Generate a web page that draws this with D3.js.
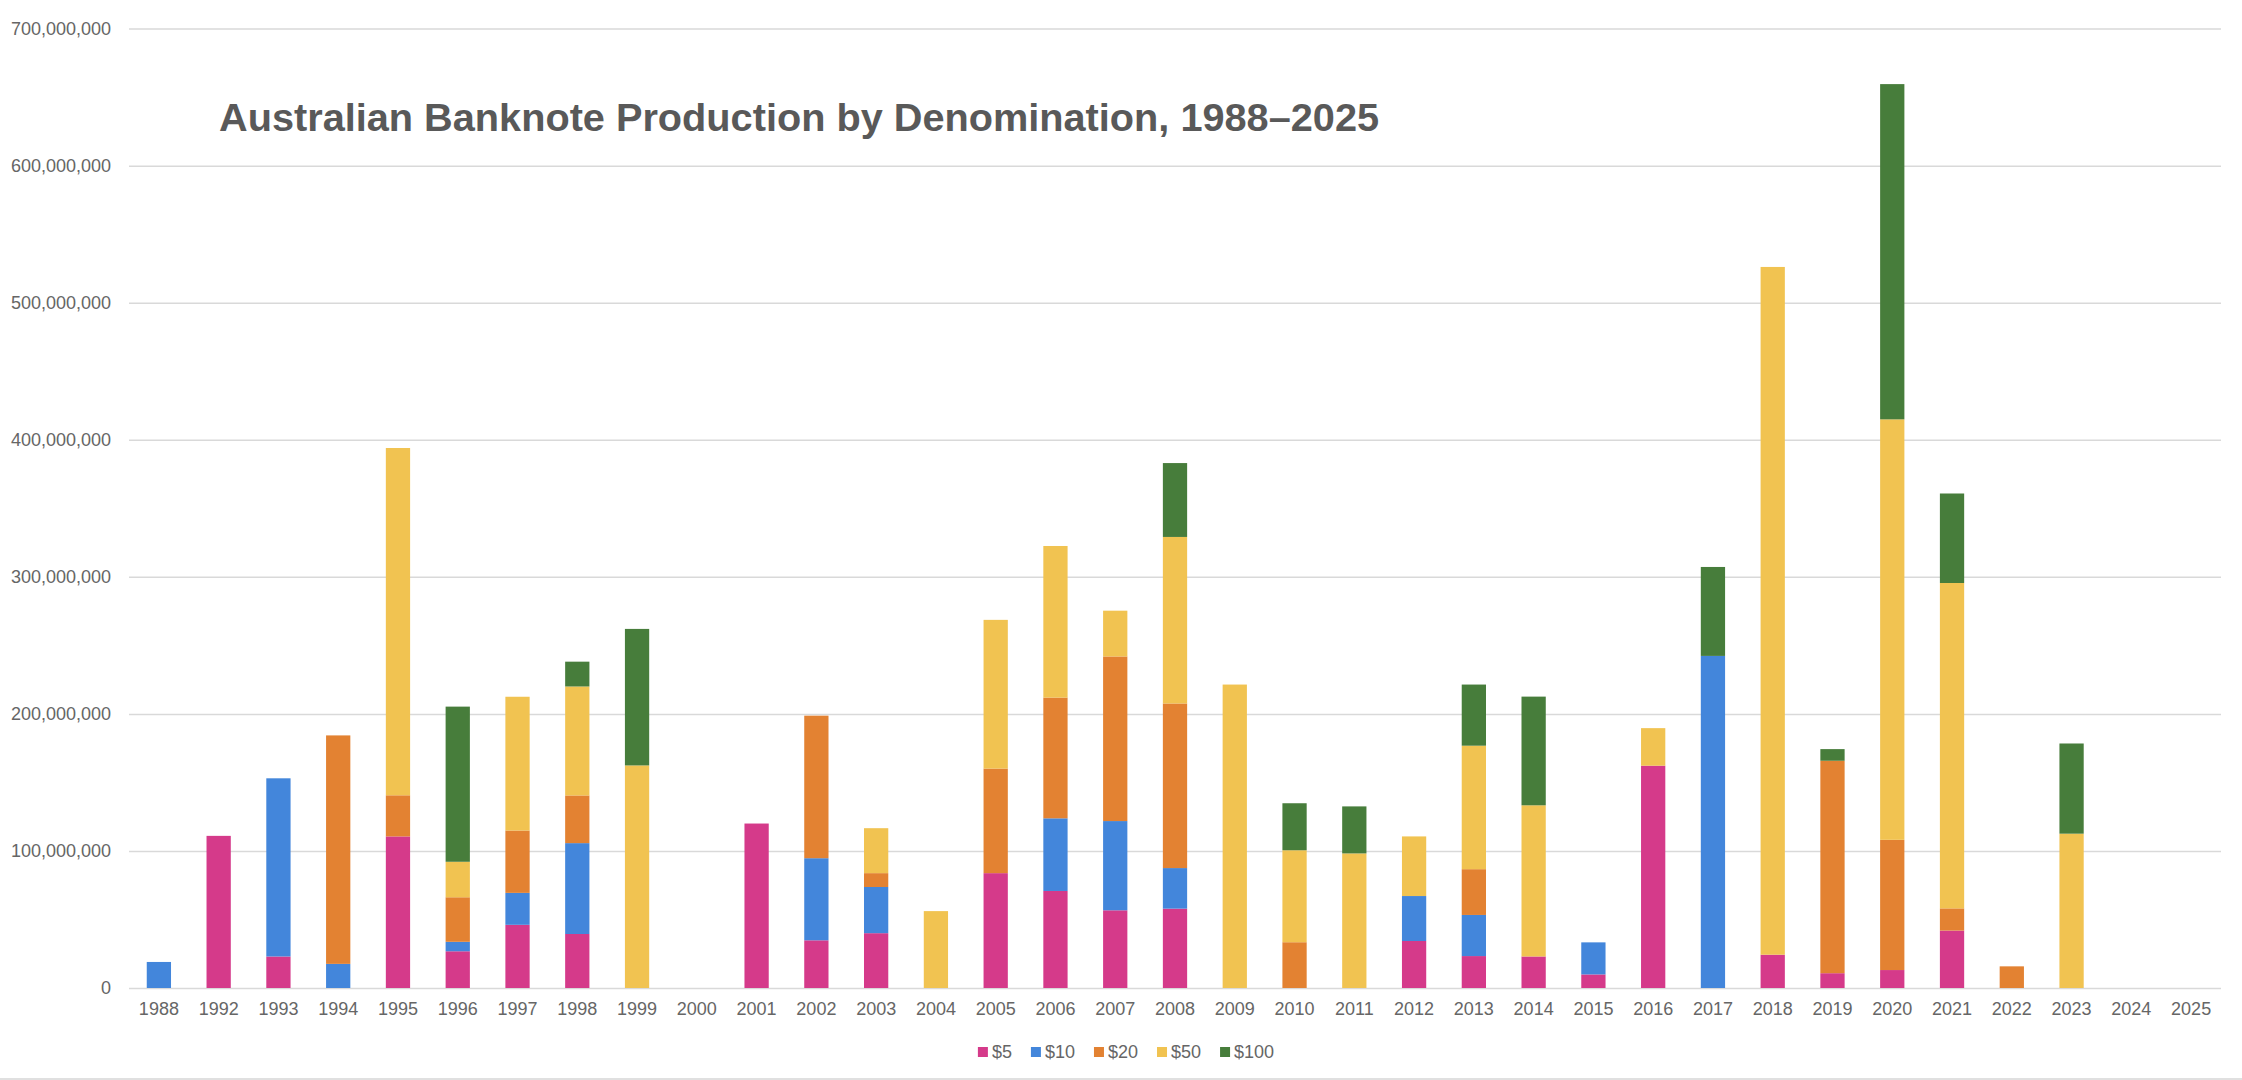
<!DOCTYPE html>
<html>
<head>
<meta charset="utf-8">
<script src="https://cdn.jsdelivr.net/npm/d3@7"></script>
<style>
  body { margin: 0; background: #fff; }
  svg { display: block; font-family: "Liberation Sans", Arial, Helvetica, sans-serif; }
</style>
</head>
<body>
<svg id="chart" width="2242" height="1080"></svg>
<script>
// values in millions of notes
const years = ["1988", "1992", "1993", "1994", "1995", "1996", "1997", "1998", "1999", "2000",
  "2001", "2002", "2003", "2004", "2005", "2006", "2007", "2008", "2009", "2010", "2011",
  "2012", "2013", "2014", "2015", "2016", "2017", "2018", "2019", "2020", "2021", "2022",
  "2023", "2024", "2025"];

const five = [0, 111, 23, 0, 110.6, 26.8, 46.1, 39.4, 0, 0, 120, 34.8, 40, 0, 83.8, 70.8, 56.7,
  57.9, 0, 0, 0, 34.3, 23.3, 23, 9.9, 162.2, 0, 24.3, 10.8, 13.1, 41.9, 0, 0, 0, 0];
const ten = [19, 0, 130, 17.6, 0, 6.9, 23.3, 66.3, 0, 0, 0, 59.9, 33.7, 0, 0, 53, 65.1, 29.6,
  0, 0, 0, 32.8, 30, 0, 23.4, 0, 242.3, 0, 0, 0, 0, 0, 0, 0, 0];
const twenty = [0, 0, 0, 166.7, 30, 32.5, 45.5, 34.8, 0, 0, 0, 104, 10.1, 0, 76.3, 88.1, 120.1,
  120.1, 0, 33.4, 0, 0, 33.4, 0, 0, 0, 0, 0, 155, 95, 16.2, 15.8, 0, 0, 0];
const fifty = [0, 0, 0, 0, 253.4, 25.9, 97.6, 79.5, 162.4, 0, 0, 0, 32.8, 56.1, 108.5, 110.6,
  33.4, 121.5, 221.4, 67.1, 98.2, 43.5, 90.1, 110.3, 0, 27.4, 0, 501.8, 0, 306.8, 237.4, 0,
  112.6, 0, 0];
const hundred = [0, 0, 0, 0, 0, 113.2, 0, 18.1, 99.6, 0, 0, 0, 0, 0, 0, 0, 0, 53.9, 0, 34.3,
  34.3, 0, 44.6, 79.3, 0, 0, 64.9, 0, 8.5, 244.6, 65.3, 0, 65.8, 0, 0];

const seriesNames = ["$5", "$10", "$20", "$50", "$100"];
const seriesValues = [five, ten, twenty, fifty, hundred];
const colors = ["#d53a8a", "#4386db", "#e38232", "#f1c351", "#477d3b"];
const yTicks = [0, 100, 200, 300, 400, 500, 600, 700];
const UNIT = 1e6;

const title = "Australian Banknote Production by Denomination, 1988\u20132025";

const width = 2242, height = 1080;
const margin = { top: 28.6, right: 21, bottom: 92, left: 129 };

const svg = d3.select("#chart");

const x = d3.scaleBand()
  .domain(years)
  .range([margin.left, width - margin.right])
  .paddingInner(0.594)
  .paddingOuter(0.297);

const y = d3.scaleLinear()
  .domain([0, 700])
  .range([height - margin.bottom, margin.top]);

// rows for the stack
const rows = years.map((yr, i) => {
  const r = { year: yr };
  seriesNames.forEach((s, k) => { r[s] = seriesValues[k][i]; });
  return r;
});

const stacked = d3.stack().keys(seriesNames)(rows);

// gridlines + y labels
const yAxis = d3.axisLeft(y)
  .tickValues(yTicks)
  .tickSize(-(width - margin.left - margin.right))
  .tickPadding(18)
  .tickFormat(d => d3.format(",")(d * UNIT));

const gy = svg.append("g")
  .attr("transform", `translate(${margin.left},0)`)
  .call(yAxis);
gy.select(".domain").remove();
gy.selectAll(".tick line").attr("stroke", "#d9d9d9").attr("stroke-width", 1.5);
gy.selectAll(".tick text")
  .attr("fill", "#666")
  .style("font-size", "18px");

// x labels
const xAxis = d3.axisBottom(x).tickSize(0).tickPadding(14);
const gx = svg.append("g")
  .attr("transform", `translate(0,${height - margin.bottom})`)
  .call(xAxis);
gx.select(".domain").remove();
gx.selectAll(".tick text")
  .attr("fill", "#666")
  .style("font-size", "18px");

// bars
svg.append("g")
  .selectAll("g")
  .data(stacked)
  .join("g")
  .attr("fill", (d, i) => colors[i])
  .selectAll("rect")
  .data(d => d.filter(p => p[1] - p[0] > 0))
  .join("rect")
  .attr("x", d => x(d.data.year))
  .attr("width", x.bandwidth())
  .attr("y", d => y(d[1]))
  .attr("height", d => y(d[0]) - y(d[1]));

// title
svg.append("text")
  .attr("x", 219)
  .attr("y", 131)
  .attr("fill", "#595959")
  .style("font-size", "39.7px")
  .style("font-weight", "bold")
  .text(title);

// legend
const legend = svg.append("g");
let lx = 0;
seriesNames.forEach((name, i) => {
  const item = legend.append("g").attr("transform", `translate(${lx},0)`);
  item.append("rect")
    .attr("x", 0).attr("y", -5)
    .attr("width", 10).attr("height", 10)
    .attr("fill", colors[i]);
  const t = item.append("text")
    .attr("x", 14).attr("dy", "0.35em")
    .attr("fill", "#666")
    .style("font-size", "18px")
    .text(name);
  lx += 14 + t.node().getComputedTextLength() + 19;
});
const legendWidth = lx - 19;
legend.attr("transform", `translate(${1126 - legendWidth / 2},1052)`);

// thin rule along the bottom edge
svg.append("line")
  .attr("x1", 0).attr("x2", width)
  .attr("y1", 1079).attr("y2", 1079)
  .attr("stroke", "#d6d6d6")
  .attr("stroke-width", 1.5);
</script>
</body>
</html>
